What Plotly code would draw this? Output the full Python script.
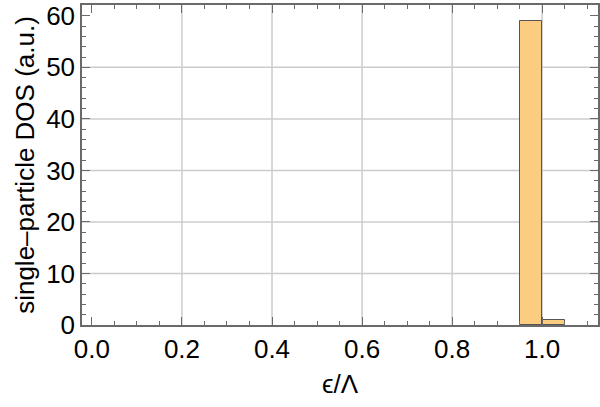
import plotly.graph_objects as go

# histogram of single-particle energies
bin_edges = [0.95, 1.0, 1.05]
counts = [59, 1]

x_grid = [0.2, 0.4, 0.6, 0.8, 1.0]
y_grid = [10, 20, 30, 40, 50]

centers = [(a + b) / 2 for a, b in zip(bin_edges[:-1], bin_edges[1:])]
widths = [b - a for a, b in zip(bin_edges[:-1], bin_edges[1:])]

font = "Liberation Sans, Arial, sans-serif"
frame = "#6a6a6a"
grid = "#cccccc"

fig = go.Figure(
    go.Bar(
        x=centers,
        y=counts,
        width=widths,
        marker=dict(color="#fccd80", line=dict(color="#555555", width=1)),
        showlegend=False,
    )
)

for v in x_grid:
    fig.add_vline(x=v, line=dict(color=grid, width=1.5), layer="below")
for v in y_grid:
    fig.add_hline(y=v, line=dict(color=grid, width=1.5), layer="below")

axis_common = dict(
    showgrid=False,
    zeroline=False,
    showline=True,
    linecolor=frame,
    linewidth=1.5,
    mirror="ticks",
    ticks="inside",
    tickcolor=frame,
    ticklen=8,
    tickwidth=1,
    tickfont=dict(family=font, size=26, color="black"),
)

fig.update_layout(
    width=600,
    height=407,
    autosize=False,
    margin=dict(l=82, r=2, t=5, b=82, autoexpand=False),
    plot_bgcolor="white",
    paper_bgcolor="white",
    bargap=0,
    xaxis=dict(
        axis_common,
        range=[-0.022, 1.124],
        dtick=0.2,
        tick0=0,
        tickformat=".1f",
        minor=dict(dtick=0.05, ticks="inside", ticklen=4, tickcolor=frame),
        title=dict(text="ϵ/Λ", font=dict(family=font, size=26, color="black"), standoff=12),
    ),
    yaxis=dict(
        axis_common,
        range=[0, 62.1],
        dtick=10,
        tick0=0,
        minor=dict(dtick=2, ticks="inside", ticklen=4, tickcolor=frame),
        title=dict(
            text="single–particle DOS (a.u.)",
            font=dict(family=font, size=26, color="black"),
            standoff=4,
        ),
    ),
)

fig.write_html(
    "out.html",
    config=dict(responsive=False, displayModeBar=False),
    post_script="document.body.style.margin='0';",
)
